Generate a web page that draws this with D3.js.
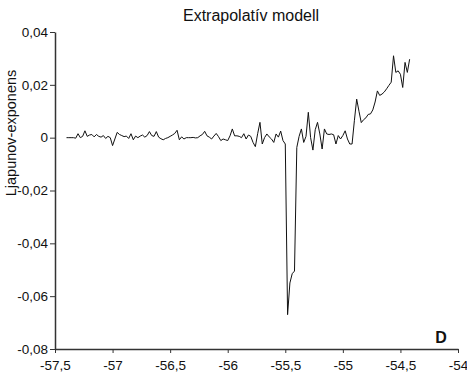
<!DOCTYPE html>
<html>
<head>
<meta charset="utf-8">
<script src="https://cdn.jsdelivr.net/npm/d3@7"></script>
<style>
  html, body { margin: 0; padding: 0; background: #fff; }
  svg { display: block; font-family: "Liberation Sans", Arial, sans-serif; }
</style>
</head>
<body>
<svg id="chart" width="467" height="375"></svg>
<script>
// lambda parameter (x) and Lyapunov exponent (y)
const xValues = [
  -57.40, -57.38, -57.36, -57.34, -57.32, -57.30, -57.28, -57.26, -57.24, -57.22,
  -57.20, -57.18, -57.16, -57.14, -57.12, -57.10, -57.08, -57.06, -57.04, -57.02,
  -57.00, -56.98, -56.96, -56.94, -56.92, -56.90, -56.88, -56.86, -56.84, -56.82,
  -56.80, -56.78, -56.76, -56.74, -56.72, -56.70, -56.68, -56.66, -56.64, -56.62,
  -56.60, -56.58, -56.56, -56.54, -56.52, -56.50, -56.48, -56.46, -56.44, -56.42,
  -56.40, -56.38, -56.36, -56.34, -56.32, -56.30, -56.28, -56.26, -56.24, -56.22,
  -56.20, -56.18, -56.16, -56.14, -56.12, -56.10, -56.08, -56.06, -56.04, -56.02,
  -56.00, -55.98, -55.96, -55.94, -55.92, -55.90, -55.88, -55.86, -55.84, -55.82,
  -55.80, -55.78, -55.76, -55.74, -55.72, -55.70, -55.68, -55.66, -55.64, -55.62,
  -55.60, -55.58, -55.56, -55.54, -55.52, -55.50, -55.48, -55.46, -55.44, -55.42,
  -55.40, -55.38, -55.36, -55.34, -55.32, -55.30, -55.28, -55.26, -55.24, -55.22,
  -55.20, -55.18, -55.16, -55.14, -55.12, -55.10, -55.08, -55.06, -55.04, -55.02,
  -55.00, -54.98, -54.96, -54.94, -54.92, -54.90, -54.88, -54.86, -54.84, -54.82,
  -54.80, -54.78, -54.76, -54.74, -54.72, -54.70, -54.68, -54.66, -54.64, -54.62,
  -54.60, -54.58, -54.56, -54.54, -54.52, -54.50, -54.48, -54.46, -54.44, -54.42
];
const lyapunov = [
  0, 0, 0, 0, -0.0002, 0.0015, 0, 0.0005, 0.0026, 0.0005,
  0.0010, 0.0012, 0.0003, 0.0012, 0.0005, 0.0002, 0.0008, -0.0003, 0.0005, 0,
  -0.0030, -0.0005, 0.0020, 0.0012, 0.0008, 0.0004, 0.0006, -0.0003, 0.0015, -0.0008,
  0.0006, 0, 0.0006, 0.0010, 0.0002, 0.0008, 0.0023, 0.0008, 0.0005, 0.0023,
  0.0002, -0.0004, -0.0008, -0.0003, 0, 0.0005, 0.0010, 0.0016, 0.0028, -0.0008,
  0.0003, -0.0005, 0, 0, 0, 0.0001, -0.0001, 0, 0.0007, 0.0012,
  0.0024, 0.0007, 0.0002, -0.0005, 0.0006, 0.0016, 0.0004, -0.0011, -0.0005, -0.0008,
  -0.0011, 0.0007, 0.0033, 0.0007, 0.0007, 0.0005, 0, 0.0015, -0.0005, 0.0010,
  0.0005, -0.0018, -0.0034, 0.0015, 0.0058, -0.0024, 0, 0.0014, 0.0003, -0.0005,
  -0.0018, 0.0014, 0.0002, 0.0025, -0.0011, -0.0024, -0.0670, -0.0550, -0.0515, -0.0505,
  -0.0037, 0.0005, 0.0033, -0.0018, 0.0005, 0.0096, 0, -0.0047, 0.0030, 0.0058,
  0.0014, -0.0043, 0.0033, 0.0014, 0.0012, 0.0014, 0.0011, -0.0024, 0.0008, -0.0005,
  0.0008, 0.0026, -0.0005, -0.0024, -0.0024, 0.0064, 0.0146, 0.0100, 0.0057, 0.0068,
  0.0075, 0.0088, 0.0090, 0.0105, 0.0135, 0.0177, 0.0160, 0.0165, 0.0173, 0.0185,
  0.0198, 0.0210, 0.0310, 0.0247, 0.0253, 0.0240, 0.0190, 0.0285, 0.0247, 0.0297
];
const xTicks = [-57.5, -57, -56.5, -56, -55.5, -55, -54.5, -54];
const yTicks = [-0.08, -0.06, -0.04, -0.02, 0, 0.02, 0.04];

const title = 'Extrapolatív modell';
const yLabel = 'Ljapunov-exponens';
const panelLabel = 'D';

const margin = {left: 55, top: 32, right: 9, bottom: 26};
const width = 467, height = 375;
const w = width - margin.left - margin.right;
const h = height - margin.top - margin.bottom;

const svg = d3.select('#chart');
const commaFmt = d => String(+d.toFixed(4)).replace('.', ',');

const xScale = d3.scaleLinear().domain([-57.5, -54]).range([0, w]);
const yScale = d3.scaleLinear().domain([-0.08, 0.04]).range([h, 0]);

const chartGroup = svg.append('g')
  .attr('transform', `translate(${margin.left},${margin.top})`);

// axes
const xAxis = d3.axisBottom(xScale).tickValues(xTicks).tickFormat(commaFmt)
  .tickSize(4).tickPadding(7).tickSizeOuter(0);
const yAxis = d3.axisLeft(yScale).tickValues(yTicks).tickFormat(commaFmt)
  .tickSize(5).tickPadding(2).tickSizeOuter(0);

const gx = chartGroup.append('g').classed('xAxis', true)
  .attr('transform', `translate(0,${h})`)
  .call(xAxis);
const gy = chartGroup.append('g').classed('yAxis', true).call(yAxis);

[gx, gy].forEach(g => {
  g.select('.domain').attr('stroke', '#333').attr('stroke-width', 1.5);
  g.selectAll('.tick line').attr('stroke', '#333').attr('stroke-width', 1);
  g.selectAll('.tick text')
    .attr('fill', '#111')
    .style('font-size', '13.5px')
    .style('font-family', '"Liberation Sans", Arial, sans-serif');
});

// data line
const line = d3.line()
  .x((d, i) => xScale(xValues[i]))
  .y(d => yScale(d));

chartGroup.append('path')
  .datum(lyapunov)
  .attr('d', line)
  .attr('fill', 'none')
  .attr('stroke', '#111')
  .attr('stroke-width', 1)
  .attr('stroke-linejoin', 'round');

// texts
svg.append('text')
  .attr('x', 251).attr('y', 21)
  .attr('text-anchor', 'middle')
  .attr('fill', '#111')
  .style('font-size', '16px')
  .text(title);

svg.append('text')
  .attr('transform', 'translate(16,133) rotate(-90)')
  .attr('text-anchor', 'middle')
  .attr('fill', '#111')
  .style('font-size', '14.5px')
  .text(yLabel);

svg.append('text')
  .attr('x', 441).attr('y', 343)
  .attr('text-anchor', 'middle')
  .attr('fill', '#111')
  .style('font-size', '16px')
  .style('font-weight', 'bold')
  .text(panelLabel);
</script>
</body>
</html>
